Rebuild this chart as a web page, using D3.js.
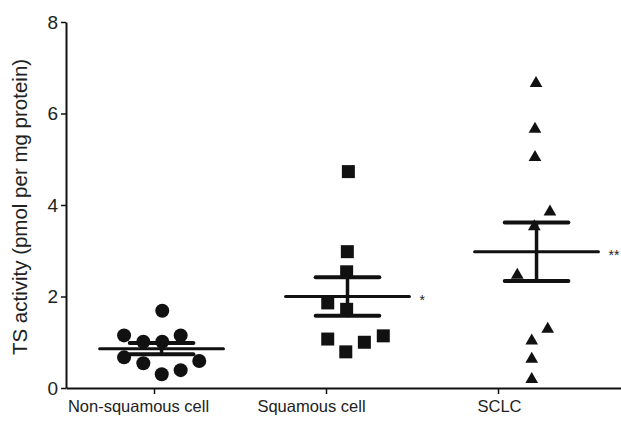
<!DOCTYPE html>
<html>
<head>
<meta charset="utf-8">
<script src="https://cdn.jsdelivr.net/npm/d3@7"></script>
<style>
  body { margin: 0; background: #fff; }
  svg { font-family: "Liberation Sans", Arial, sans-serif; }
</style>
</head>
<body>
<svg id="chart"></svg>
<script>
// categories on the x axis
const categories = ['Non-squamous cell', 'Squamous cell', 'SCLC']
const yTicks = [0, 2, 4, 6, 8]

// points: [column position in category units, TS activity]
const nonSquamous = [
    [0.048, 1.69], [-0.174, 1.15], [-0.062, 1.01], [0.048, 1.01], [0.155, 1.15],
    [-0.174, 0.67], [-0.062, 0.54], [0.263, 0.59], [0.045, 0.30], [0.155, 0.39]
]
const squamous = [
    [1.13, 4.73], [1.124, 2.98], [1.12, 2.54], [1.01, 1.86], [1.12, 1.72],
    [1.01, 1.07], [1.115, 0.79], [1.223, 1.00], [1.333, 1.14]
]
const sclc = [
    [2.221, 6.66], [2.215, 5.66], [2.215, 5.04], [2.302, 3.85], [2.211, 3.53],
    [2.112, 2.47], [2.289, 1.29], [2.196, 1.03], [2.196, 0.63], [2.196, 0.19]
]

// mean +/- SEM per group
const groupCenter = [0.044, 1.125, 2.224]
const means = [0.86, 2.0, 2.98]
const sems = [0.125, 0.42, 0.64]
const marks = ['', '*', '**']

const width = 621
const height = 424
const ink = '#111'

const svg = d3.select('#chart')
    .attr('width', width)
    .attr('height', height)

// x in category units, 0 = first tick
const x = d3.scaleLinear()
    .domain([-0.5116, 2.715])
    .range([66, 621])

const y = d3.scaleLinear()
    .domain([0, 8])
    .range([388, 22])

// y-axis
const yAxis = svg.append('g')
    .attr('transform', `translate(${x(-0.5116)}, 0)`)
    .call(d3.axisLeft(y).tickValues(yTicks).tickSize(5).tickSizeOuter(0).tickPadding(3))
yAxis.select('.domain').attr('stroke', ink).attr('stroke-width', 2)
yAxis.selectAll('.tick line').attr('stroke', ink).attr('stroke-width', 1.5)
yAxis.selectAll('.tick text')
    .attr('font-size', 19)
    .attr('fill', '#222')

// x-axis
const xAxis = svg.append('g')
    .attr('transform', `translate(0, ${y(0)})`)
    .call(d3.axisBottom(x).tickValues([0, 1, 2]).tickFormat(i => categories[i])
        .tickSize(6).tickSizeOuter(0).tickPadding(6))
xAxis.select('.domain').attr('stroke', ink).attr('stroke-width', 2)
xAxis.selectAll('.tick line').attr('stroke', ink).attr('stroke-width', 1.5)
xAxis.selectAll('.tick text')
    .attr('font-size', 16.5)
    .attr('fill', '#222')
    .attr('dx', (d, i) => [-16, -15, 1][i])

// y label
svg.append('text')
    .attr('transform', `translate(27, ${(y(0) + y(8)) / 2 + 2}) rotate(-90)`)
    .attr('text-anchor', 'middle')
    .attr('font-size', 20.5)
    .attr('fill', '#222')
    .text('TS activity (pmol per mg protein)')

// points
svg.append('g').selectAll('circle')
    .data(nonSquamous)
    .join('circle')
        .attr('cx', d => x(d[0]))
        .attr('cy', d => y(d[1]))
        .attr('r', 7)
        .attr('fill', ink)

svg.append('g').selectAll('path')
    .data(squamous)
    .join('path')
        .attr('transform', d => `translate(${x(d[0])}, ${y(d[1])})`)
        .attr('d', d3.symbol(d3.symbolSquare, 169))
        .attr('fill', ink)

svg.append('g').selectAll('path')
    .data(sclc)
    .join('path')
        .attr('transform', d => `translate(${x(d[0])}, ${y(d[1])})`)
        .attr('d', d3.symbol(d3.symbolTriangle, 70))
        .attr('fill', ink)

// mean and SEM bars
const stats = svg.append('g')
    .attr('stroke', ink)
    .attr('stroke-linecap', 'round')

const meanHalf = 0.36
const semHalf = 0.185

means.forEach((m, i) => {
    const c = groupCenter[i]
    stats.append('line')
        .attr('x1', x(c - meanHalf)).attr('x2', x(c + meanHalf))
        .attr('y1', y(m)).attr('y2', y(m))
        .attr('stroke-width', 3)
    stats.append('line')
        .attr('x1', x(c)).attr('x2', x(c))
        .attr('y1', y(m - sems[i])).attr('y2', y(m + sems[i]))
        .attr('stroke-width', 3.5)
    ;[m - sems[i], m + sems[i]].forEach(v => {
        stats.append('line')
            .attr('x1', x(c - semHalf)).attr('x2', x(c + semHalf))
            .attr('y1', y(v)).attr('y2', y(v))
            .attr('stroke-width', 4)
    })
    svg.append('text')
        .attr('x', x(c + meanHalf) + 10)
        .attr('y', y(m) + 8)
        .attr('font-size', 14)
        .attr('fill', '#222')
        .text(marks[i])
})
</script>
</body>
</html>
